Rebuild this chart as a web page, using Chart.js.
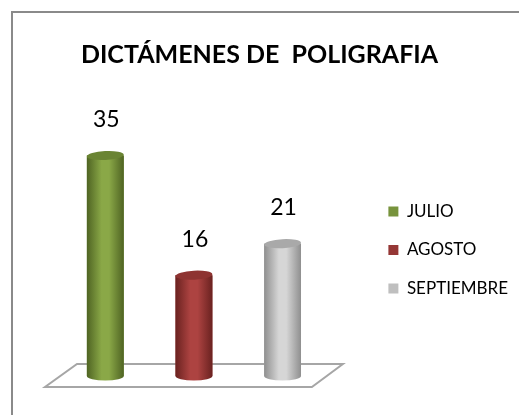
<!DOCTYPE html>
<html>
<head>
<meta charset="utf-8">
<script src="https://cdn.jsdelivr.net/npm/chart.js@4"></script>
<style>
  body{margin:0;background:#fff;overflow:hidden;}
  #frame{position:absolute;left:11px;top:11px;width:600px;height:500px;border:2px solid #8a8a8a;}
  #wrap{position:absolute;left:0;top:0;width:519px;height:415px;}
</style>
</head>
<body>
<div id="frame"></div>
<div id="wrap"><canvas id="plot"></canvas></div>
<script>
const months = ['JULIO', 'AGOSTO', 'SEPTIEMBRE']
const dictamenes = [35, 16, 21]
const yMax = 40

const colors = ['#77933c', '#953735', '#bfbfbf']
const shades = [
  {dark: '#4f6423', light: '#8aa847', top: '#6a8433'},
  {dark: '#6a2220', light: '#ad4341', top: '#8e3331'},
  {dark: '#8f8f8f', light: '#d6d6d6', top: '#a9a9a9'}
]

// floor under the bars, drawn from chart area + zero line
const floor = {
  id: 'floor',
  beforeDatasetsDraw(chart){
    const {ctx, chartArea} = chart
    const base = chart.scales.y.getPixelForValue(0)
    ctx.save()
    ctx.beginPath()
    ctx.moveTo(chartArea.left + 16, base - 12)
    ctx.lineTo(chartArea.right + 16, base - 12)
    ctx.lineTo(chartArea.right - 15, base + 11)
    ctx.lineTo(chartArea.left - 16, base + 11)
    ctx.closePath()
    ctx.fillStyle = '#fff'
    ctx.fill()
    ctx.strokeStyle = '#a6a6a6'
    ctx.lineWidth = 2
    ctx.stroke()
    ctx.restore()
  }
}

// turn each bar into a cylinder and write its value above it
const cylinders = {
  id: 'cylinders',
  afterDatasetsDraw(chart){
    const {ctx} = chart
    const meta = chart.getDatasetMeta(0)
    meta.data.forEach((bar, i) => {
      const {x, y, base, width} = bar.getProps(['x', 'y', 'base', 'width'], true)
      const rx = width / 2
      const ry = 4.5
      const s = shades[i]
      const g = ctx.createLinearGradient(x - rx, 0, x + rx, 0)
      g.addColorStop(0, s.dark)
      g.addColorStop(0.4, s.light)
      g.addColorStop(0.6, s.light)
      g.addColorStop(1, s.dark)
      ctx.save()
      ctx.fillStyle = g
      ctx.beginPath()
      ctx.moveTo(x - rx, y)
      ctx.lineTo(x - rx, base)
      ctx.ellipse(x, base, rx, ry, 0, Math.PI, 0, true)
      ctx.lineTo(x + rx, y)
      ctx.closePath()
      ctx.fill()
      ctx.beginPath()
      ctx.ellipse(x, y, rx, ry, -0.05, 0, Math.PI * 2)
      ctx.fillStyle = s.top
      ctx.fill()
      ctx.fillStyle = '#000'
      ctx.font = '23px Lato'
      ctx.textAlign = 'center'
      ctx.textBaseline = 'middle'
      ctx.fillText(dictamenes[i], x + 1, y - 36)
      ctx.restore()
    })
  }
}

const ctx = document.getElementById('plot')
new Chart(ctx, {
  type: 'bar',
  data: {
    labels: months,
    datasets: [{label: 'DICTÁMENES', data: dictamenes, backgroundColor: colors, borderWidth: 0}]
  },
  options: {
    responsive: true,
    maintainAspectRatio: false,
    animation: false,
    events: [],
    layout: {padding: {left: 1, right: 1, top: 0, bottom: 39}},
    datasets: {bar: {barPercentage: 0.416, categoryPercentage: 1}},
    plugins: {
      title: {
        display: true,
        text: 'DICTÁMENES DE  POLIGRAFIA',
        color: '#000',
        font: {family: 'Lato', size: 25, weight: 'bold'},
        padding: {top: 40, bottom: 54}
      },
      legend: {
        position: 'right',
        fullSize: false,
        maxWidth: 200,
        labels: {
          color: '#000',
          font: {family: 'Lato', size: 17},
          boxWidth: 10,
          boxHeight: 10,
          padding: 21.5,
          generateLabels: chart => chart.data.labels.map((label, i) => ({
            text: label,
            fillStyle: colors[i],
            strokeStyle: 'transparent',
            lineWidth: 0,
            index: i
          }))
        }
      },
      tooltip: {enabled: false}
    },
    scales: {
      x: {display: false},
      y: {
        min: 0,
        max: yMax,
        position: 'left',
        ticks: {display: false},
        grid: {display: false},
        border: {display: false},
        afterFit: scale => { scale.width = 60 }
      },
      gap: {
        type: 'linear',
        position: 'right',
        ticks: {display: false},
        grid: {display: false},
        border: {display: false},
        afterFit: scale => { scale.width = 40 }
      }
    }
  },
  plugins: [floor, cylinders]
})
</script>
</body>
</html>
